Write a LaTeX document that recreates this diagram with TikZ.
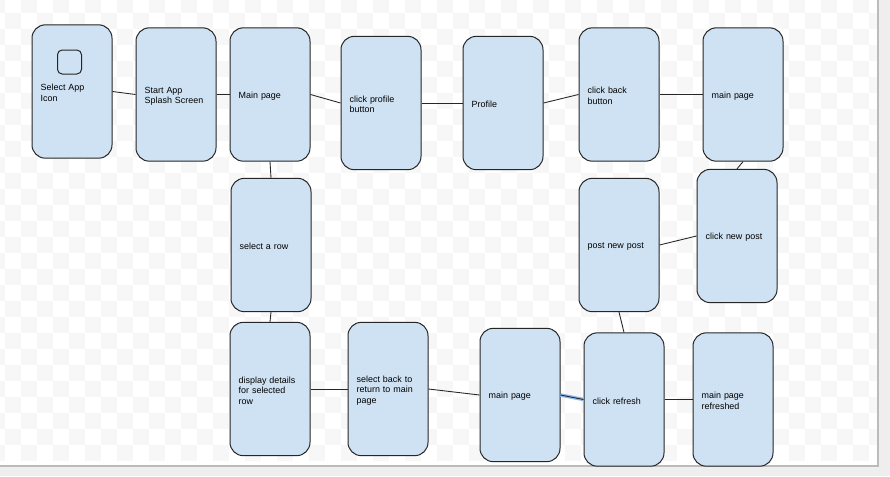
\documentclass[tikz,border=0pt]{standalone}
\usepackage{fontspec}
\setmainfont{Liberation Sans}
\usepackage{tikz}
\definecolor{screenblue}{HTML}{CFE2F3}
\definecolor{checkgrey}{HTML}{F7F7F7}
\definecolor{panelgrey}{HTML}{EEEEEE}
\definecolor{rimgrey}{HTML}{BBBBBB}
\definecolor{picked}{HTML}{8DB8EE}
\tikzset{
  screen/.style={rectangle, draw=black!85, fill=screenblue, line width=0.75pt, rounded corners=10pt,
    minimum width=60pt, minimum height=100pt, text width=47pt, inner xsep=6.5pt, inner ysep=0pt,
    align=left, font=\fontsize{6.7}{7.8}\selectfont, execute at begin node={\rule{0pt}{7pt}}},
  link/.style={draw=black!85, line width=0.65pt}
}

\begin{document}
\begin{tikzpicture}[x=0.75pt, y=-0.75pt]
  \useasboundingbox (0,0) rectangle (890,476);
  \fill[panelgrey] (0,0) rectangle (890,476);
  \fill[white] (0,0) rectangle (878,466);
  \foreach \i in {-1,...,54} {
    \foreach \j in {0,...,28} {
      \pgfmathtruncatemacro{\odd}{mod(\i+\j+2,2)}
      \ifnum\odd=1
        \fill[checkgrey] ({max(5+16*\i,0)},{max(-3+16*\j,0)}) rectangle ({min(21+16*\i,878)},{min(13+16*\j,466)});
      \fi
    }
  }
  \draw[rimgrey, line width=0.8pt] (878,0) -- (878,466) -- (0,466);

  % top row
  \node[screen] (icon) at (72,91.5) {Select App\\Icon};
  \node[screen] (splash) at (176,94.5) {Start App\\Splash Screen};
  \node[screen] (mainA) at (270,94.5) {Main page};
  \node[screen] (profileBtn) at (381,103) {click profile\\button};
  \node[screen] (profile) at (503,103) {Profile};
  \node[screen] (backBtn) at (619,94.5) {click back\\button};
  \node[screen] (mainB) at (743,94.5) {main page};
  % middle row
  \node[screen] (row) at (271,245) {select a row};
  \node[screen] (newPost) at (619,245) {post new post};
  \node[screen] (newBtn) at (737,236) {click new post};
  % bottom row
  \node[screen] (details) at (270,389) {display details\\for selected\\row};
  \node[screen] (backMain) at (388,389) {select back to\\return to main\\page};
  \node[screen] (mainC) at (520,395) {main page};
  \node[screen] (refresh) at (624,399.5) {click refresh};
  \node[screen] (refreshed) at (733,399.5) {main page\\refreshed};

  \node[rectangle, draw=black!85, line width=0.75pt, rounded corners=3.5pt, minimum size=18pt] (glyph) at (69.5,62) {};

  \draw[link] (icon.east) -- (splash.west);
  \draw[link] (splash.east) -- (mainA.west);
  \draw[link] (mainA.east) -- (profileBtn.west);
  \draw[link] (profileBtn.east) -- (profile.west);
  \draw[link] (profile.east) -- (backBtn.west);
  \draw[link] (backBtn.east) -- (mainB.west);
  \draw[link] (mainB.south) -- (newBtn.north);
  \draw[link] (newBtn.west) -- (newPost.east);
  \draw[link] (newPost.south) -- (refresh.north);
  \draw[link] (mainA.south) -- (row.north);
  \draw[link] (row.south) -- (details.north);
  \draw[link] (details.east) -- (backMain.west);
  \draw[link] (backMain.east) -- (mainC.west);
  \draw[picked, line width=2.6pt] (mainC.east) -- (refresh.west);
  \draw[link] (mainC.east) -- (refresh.west);
  \draw[link] (refresh.east) -- (refreshed.west);
\end{tikzpicture}
\end{document}
